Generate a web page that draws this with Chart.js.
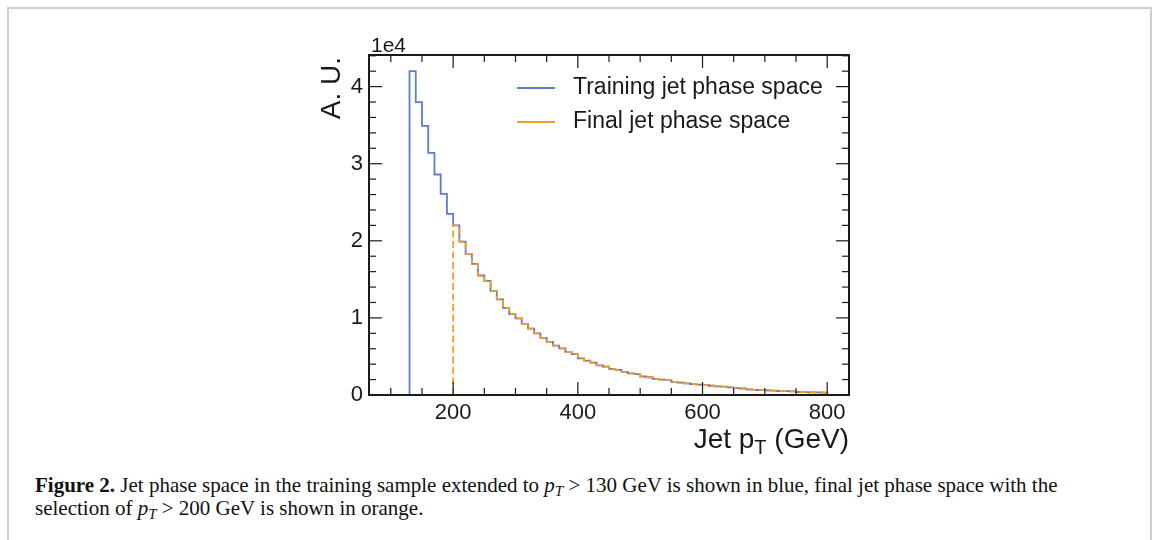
<!DOCTYPE html>
<html>
<head>
<meta charset="utf-8">
<script src="https://cdn.jsdelivr.net/npm/chart.js@4.4.0/dist/chart.umd.min.js"></script>
<style>
  body{margin:0;background:#fff;width:1167px;height:540px;overflow:hidden;position:relative}
  #frame{position:absolute;left:7px;top:7px;width:1141px;height:600px;border:2px solid #cfcfcf}
  #wrap{position:absolute;left:0;top:0;width:1167px;height:470px}
  #caption{position:absolute;left:35px;top:474px;font:21px "Liberation Serif",serif;line-height:23px;color:#111;white-space:nowrap}
  #caption sub{font-size:15px;line-height:0;vertical-align:-4px}
</style>
</head>
<body>
<div id="frame"></div>
<div id="wrap"><canvas id="chart"></canvas></div>
<div id="caption"><b>Figure 2.</b> Jet phase space in the training sample extended to <i>p<sub>T</sub></i> &gt; 130 GeV is shown in blue, final jet phase space with the<br>selection of <i>p<sub>T</sub></i> &gt; 200 GeV is shown in orange.</div>
<script>
// bin lower edges (GeV), bins are 10 GeV wide, last bin ends at 800
const trainingEdges = [130,140,150,160,170,180,190,200,210,220,230,240,250,260,270,280,290,300,310,320,
  330,340,350,360,370,380,390,400,410,420,430,440,450,460,470,480,490,500,510,520,
  530,540,550,560,570,580,590,600,610,620,630,640,650,660,670,680,690,700,710,720,
  730,740,750,760,770,780,790];
const trainingCounts = [42000,38000,34900,31400,28600,26100,23500,22000,19900,18300,17000,15500,14800,13500,12400,11300,10500,9950,9200,8600,
  8000,7400,6900,6400,6060,5600,5300,4760,4450,4200,3850,3680,3380,3250,3000,2800,2700,2400,2300,2100,
  2000,1950,1700,1600,1500,1430,1340,1300,1200,1120,1080,1000,900,840,740,650,620,600,580,520,
  500,480,390,380,350,340,300];
const finalEdges = [200,210,220,230,240,250,260,270,280,290,300,310,320,
  330,340,350,360,370,380,390,400,410,420,430,440,450,460,470,480,490,500,510,520,
  530,540,550,560,570,580,590,600,610,620,630,640,650,660,670,680,690,700,710,720,
  730,740,750,760,770,780,790];
const finalCounts = [22000,19900,18300,17000,15500,14800,13500,12400,11300,10500,9950,9200,8600,
  8000,7400,6900,6400,6060,5600,5300,4760,4450,4200,3850,3680,3380,3250,3000,2800,2700,2400,2300,2100,
  2000,1950,1700,1600,1500,1430,1340,1300,1200,1120,1080,1000,900,840,740,650,620,600,580,520,
  500,480,390,380,350,340,300];
const upperEdge = 800;
const xMajor = [200,400,600,800];
const xMinor = [100,150,250,300,350,450,500,550,650,700,750];
const yMajor = [0,10000,20000,30000,40000];
const yMinor = [2000,4000,6000,8000,12000,14000,16000,18000,22000,24000,26000,28000,32000,34000,36000,38000,42000,44000];

const BLUE = '#5b7ec9', ORANGE = '#f89c20', INK = '#1a1a1a';
const SANS = '"Liberation Sans", Arial, sans-serif';

// turn a histogram into step points: rise from 0, one point per bin, drop to 0
function stepPoints(edges, counts){
  const pts = [{x:edges[0], y:0}];
  edges.forEach((e,i)=>pts.push({x:e, y:counts[i]}));
  pts.push({x:upperEdge, y:0});
  return pts;
}

// frame, inward ticks, axis texts and legend
const decorations = {
  id:'decorations',
  afterDatasetsDraw(chart){
    const {ctx, chartArea:a, scales:{x,y}} = chart;
    ctx.save();
    ctx.strokeStyle = INK;
    const seg = (x1,y1,x2,y2)=>{ctx.beginPath();ctx.moveTo(x1,y1);ctx.lineTo(x2,y2);ctx.stroke();};
    ctx.lineWidth = 1.2;
    xMajor.forEach(v=>{const p=x.getPixelForValue(v); seg(p,a.bottom,p,a.bottom-13); seg(p,a.top,p,a.top+13);});
    xMinor.forEach(v=>{const p=x.getPixelForValue(v); seg(p,a.bottom,p,a.bottom-7); seg(p,a.top,p,a.top+7);});
    yMajor.forEach(v=>{const p=y.getPixelForValue(v); seg(a.left,p,a.left+13,p); seg(a.right,p,a.right-13,p);});
    yMinor.forEach(v=>{const p=y.getPixelForValue(v); seg(a.left,p,a.left+7,p); seg(a.right,p,a.right-7,p);});
    ctx.lineWidth = 2;
    ctx.strokeRect(a.left, a.top, a.right-a.left, a.bottom-a.top);

    ctx.fillStyle = INK;
    // offset text
    ctx.font = '21px '+SANS;
    ctx.textAlign = 'left'; ctx.textBaseline = 'alphabetic';
    ctx.fillText('1e4', a.left+2, a.top-3);
    // y title
    ctx.save();
    ctx.translate(a.left-37, a.top+2);
    ctx.rotate(-Math.PI/2);
    ctx.font = '28px '+SANS;
    ctx.textAlign = 'right'; ctx.textBaseline = 'middle';
    ctx.fillText('A. U.', 0, 0);
    ctx.restore();
    // x title with subscript
    const big = '28px '+SANS, small = '20px '+SANS;
    ctx.font = big; const w1 = ctx.measureText('Jet p').width, w3 = ctx.measureText(' (GeV)').width;
    ctx.font = small; const w2 = ctx.measureText('T').width;
    let tx = a.right - (w1+w2+w3), ty = a.bottom+53;
    ctx.font = big; ctx.fillText('Jet p', tx, ty); tx += w1;
    ctx.font = small; ctx.fillText('T', tx, ty+6); tx += w2;
    ctx.font = big; ctx.fillText(' (GeV)', tx, ty);

    // legend
    ctx.font = '23px '+SANS;
    ctx.textBaseline = 'middle';
    chart.data.datasets.forEach((ds,i)=>{
      const ly = 88 + i*34;
      ctx.strokeStyle = ds.borderColor; ctx.lineWidth = 2;
      seg(517, ly, 555, ly);
      ctx.fillText(ds.label, 573, ly);
    });
    ctx.restore();
  }
};

new Chart(document.getElementById('chart'), {
  type:'line',
  data:{
    datasets:[
      {label:'Training jet phase space', data:stepPoints(trainingEdges, trainingCounts),
       borderColor:BLUE, borderWidth:1.8, stepped:'before', pointRadius:0, fill:false, order:1},
      {label:'Final jet phase space', data:stepPoints(finalEdges, finalCounts),
       borderColor:ORANGE, borderWidth:1.8, borderDash:[7,3.5], stepped:'before', pointRadius:0, fill:false, order:0}
    ]
  },
  options:{
    responsive:true, maintainAspectRatio:false, animation:false,
    layout:{padding:{left:319, right:318, top:55, bottom:10}},
    plugins:{legend:{display:false}, tooltip:{enabled:false}},
    scales:{
      x:{type:'linear', min:65, max:835,
         afterBuildTicks:s=>{s.ticks = xMajor.map(v=>({value:v}));},
         afterFit:s=>{s.height = 65;},
         grid:{display:false, drawTicks:false}, border:{display:false},
         ticks:{color:INK, font:{family:SANS, size:22}, padding:5, maxRotation:0}},
      y:{type:'linear', min:0, max:44100,
         afterBuildTicks:s=>{s.ticks = yMajor.map(v=>({value:v}));},
         afterFit:s=>{s.width = 50;},
         grid:{display:false, drawTicks:false}, border:{display:false},
         ticks:{color:INK, font:{family:SANS, size:22}, padding:6, callback:v=>String(v/10000)}}
    }
  },
  plugins:[decorations]
});
</script>
</body>
</html>
